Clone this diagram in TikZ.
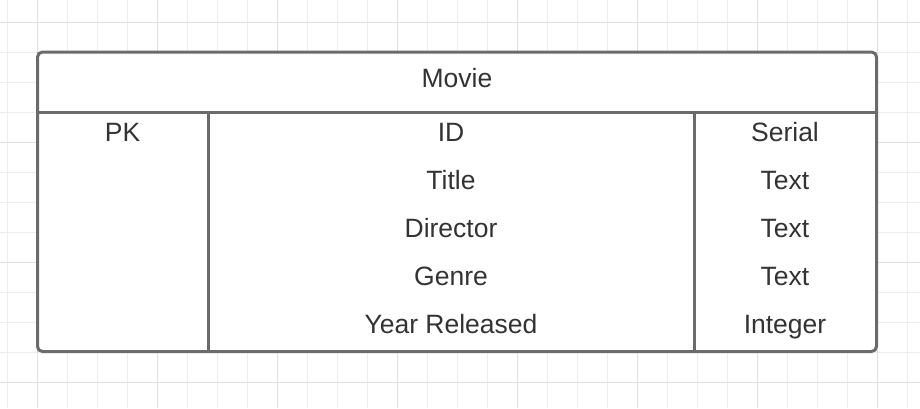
\documentclass[tikz,border=0pt]{standalone}
\usepackage{fontspec}
\setmainfont{Liberation Sans}
\definecolor{gridlight}{HTML}{EDEDED}
\definecolor{griddark}{HTML}{E0E0E0}
\definecolor{boxline}{HTML}{6B6B6B}
\definecolor{txt}{HTML}{333333}
\begin{document}
\begin{tikzpicture}[x=1pt,y=-1pt,
  cell/.style={anchor=base,text=txt,font=\fontsize{26.5}{29}\selectfont,inner sep=0pt},
  frame/.style={draw=boxline,line width=3pt}]
\useasboundingbox (0,0) rectangle (920,408);
\fill[white] (0,0) rectangle (920,408);
% grid
\foreach \x in {7,37,...,907} \draw[gridlight,line width=1pt] (\x,0) -- (\x,408);
\foreach \y in {22,52,...,400} \draw[gridlight,line width=1pt] (0,\y) -- (920,\y);
\foreach \x in {37,157,...,907} \draw[griddark,line width=1pt] (\x,0) -- (\x,408);
\foreach \y in {22,142,...,400} \draw[griddark,line width=1pt] (0,\y) -- (920,\y);
% table
\coordinate (tl) at (37.5,52);
\coordinate (br) at (876.5,351.5);
\fill[white,rounded corners=5pt] (tl) rectangle (br);
\draw[frame,rounded corners=5pt] (tl) rectangle (br);
\coordinate (hl) at (37.5,112);
\coordinate (hr) at (876.5,112);
\draw[frame] (hl) -- (hr);
\coordinate (c1t) at (208,112);
\coordinate (c1b) at (208,351.5);
\coordinate (c2t) at (694,112);
\coordinate (c2b) at (694,351.5);
\draw[frame] (c1t) -- (c1b);
\draw[frame] (c2t) -- (c2b);
% texts
\node[cell] (title) at (457,87.5) {Movie};
\node[cell] (pk) at (122.5,141.5) {PK};
\node[cell] (f1) at (451,141.5) {ID};
\node[cell] (f2) at (451,189.5) {Title};
\node[cell] (f3) at (451,237.5) {Director};
\node[cell] (f4) at (451,285.5) {Genre};
\node[cell] (f5) at (451,333.5) {Year Released};
\node[cell] (t1) at (785,141.5) {Serial};
\node[cell] (t2) at (785,189.5) {Text};
\node[cell] (t3) at (785,237.5) {Text};
\node[cell] (t4) at (785,285.5) {Text};
\node[cell] (t5) at (785,333.5) {Integer};
\end{tikzpicture}
\end{document}
